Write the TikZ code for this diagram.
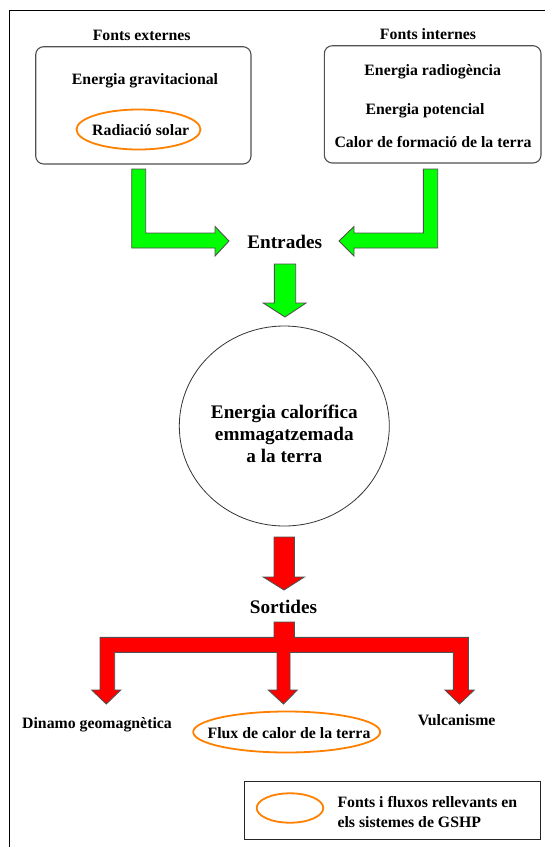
\documentclass[tikz,border=0pt]{standalone}
\usepackage{fontspec}
\setmainfont{Liberation Serif}
\usetikzlibrary{shapes.geometric}
\definecolor{arrowgreen}{HTML}{00FF00}
\definecolor{arrowred}{HTML}{FF0000}
\definecolor{hiorange}{HTML}{FF8000}
\definecolor{edgegray}{HTML}{505050}
\tikzset{
  lbl/.style={inner sep=0pt, font=\bfseries\fontsize{15.8}{19}\selectfont, text height=14pt, text depth=0.5pt},
  biglbl/.style={inner sep=0pt, font=\bfseries\fontsize{19.2}{22}\selectfont, text height=15pt, text depth=0.5pt},
  srcbox/.style={draw=edgegray, line width=1.1pt, rounded corners=8pt},
  hilite/.style={draw=hiorange, line width=1.8pt, ellipse, inner sep=0pt},
  greenblock/.style={fill=arrowgreen, draw=edgegray, line width=0.9pt},
  redblock/.style={fill=arrowred, draw=edgegray, line width=0.9pt},
}
\begin{document}
\begin{tikzpicture}[x=1pt, y=-1pt]
\useasboundingbox (0,0) rectangle (545,847);
\fill[white] (0,0) rectangle (545,847);
% outer frame (open towards right and bottom)
\draw[black, line width=1pt] (9.3,850) -- (9.3,10) -- (548,10);

% source boxes
\draw[srcbox] (35.7,46.7) rectangle (251,164);
\draw[srcbox] (324.3,45.7) rectangle (541,163);

\node[lbl] (ext) at (141.7,34) {Fonts externes};
\node[lbl] (grav) at (145,77.7) {Energia gravitacional};
\node[hilite, minimum width=124pt, minimum height=40pt] (solarring) at (138.5,129.5) {};
\node[lbl] (solar) at (140.7,129) {Radiació solar};

\node[lbl] (int) at (428,33) {Fonts internes};
\node[lbl] (radio) at (432.7,69) {Energia radiogència};
\node[lbl] (pot) at (425,107.7) {Energia potencial};
\node[lbl] (form) at (433,141) {Calor de formació de la terra};

% green inflow arrows
\draw[greenblock] (131.7,169) -- (145.7,169) -- (145.7,233) -- (215,233) -- (215,226.5)
  -- (229,241) -- (215,256) -- (215,248) -- (131.7,248) -- cycle;
\draw[greenblock] (423.3,169) -- (437.7,169) -- (437.7,248) -- (354,248) -- (354,256)
  -- (339,241) -- (354,226.5) -- (354,233) -- (423.3,233) -- cycle;
\node[biglbl] (in) at (284.7,241.5) {Entrades};
\draw[greenblock] (274.3,264) -- (295.7,264) -- (295.7,303) -- (306,303) -- (285,317)
  -- (263.3,303) -- (274.3,303) -- cycle;

% stored heat
\node[ellipse, draw=black!80, line width=0.8pt, minimum width=210pt, minimum height=200pt] (store) at (284.3,426) {};
\node[inner sep=0pt, align=center, font=\bfseries\fontsize{19.2}{22}\selectfont] (storetxt) at (284.3,434)
  {Energia calorífica\\emmagatzemada\\a la terra};

% red outflow arrows
\draw[redblock] (274,537) -- (294.3,537) -- (294.3,577) -- (304.3,577) -- (284,590)
  -- (263.3,577) -- (274,577) -- cycle;
\node[biglbl] (out) at (283.5,606) {Sortides};
\draw[redblock] (274,622) -- (294.3,622) -- (294.3,637.3) -- (468.3,637.3) -- (468.3,690)
  -- (474.3,690) -- (459.5,704) -- (445,690) -- (453.3,690) -- (453.3,652.3)
  -- (290,652.3) -- (290,690) -- (297.3,690) -- (283.5,704) -- (268.3,690) -- (277,690)
  -- (277,652.3) -- (114.7,652.3) -- (114.7,690) -- (120.7,690) -- (106.3,704)
  -- (91.7,690) -- (100,690) -- (100,637.3) -- (274,637.3) -- cycle;

\node[lbl] (dyn) at (97,721.7) {Dinamo geomagnètica};
\node[hilite, minimum width=187pt, minimum height=41pt] (fluxring) at (286.7,732) {};
\node[lbl] (flux) at (289,731.7) {Flux de calor de la terra};
\node[lbl] (volc) at (456.7,719) {Vulcanisme};

% legend
\draw[draw=black!85, line width=1pt] (244,781.7) rectangle (540,839.3);
\node[hilite, minimum width=66.6pt, minimum height=29.4pt] (keyring) at (290,808) {};
\node[inner sep=0pt, anchor=north west, align=left, font=\bfseries\fontsize{15.8}{20}\selectfont] (keytxt) at (337.3,796.5)
  {Fonts i fluxos rellevants en\\els sistemes de GSHP};
\end{tikzpicture}
\end{document}
